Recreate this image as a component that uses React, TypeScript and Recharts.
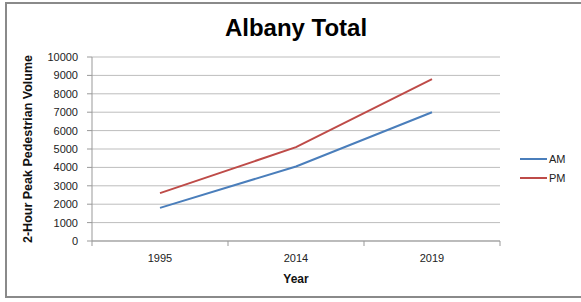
import React from "react";
import { LineChart, Line, XAxis, YAxis, CartesianGrid, Legend } from "recharts";

const years = ["1995", "2014", "2019"];
const amVolume = [1800, 4050, 7000];
const pmVolume = [2600, 5100, 8800];
const yTicks = [0, 1000, 2000, 3000, 4000, 5000, 6000, 7000, 8000, 9000, 10000];

// categories sit in the middle of each band, tick marks on the band edges
const data = years.map((year, i) => ({ pos: i + 0.5, year, AM: amVolume[i], PM: pmVolume[i] }));
const xTicks = [0, 0.5, 1, 1.5, 2, 2.5, 3];

const FONT = "'Liberation Sans', Arial, Helvetica, sans-serif";
const AM_COLOR = "#4A7EBB";
const PM_COLOR = "#BE4B48";

function XTick(props: any) {
  const { x, y, payload } = props;
  const v = payload.value;
  if (Number.isInteger(v)) {
    return <line x1={x} x2={x} y1={y} y2={y + 5} stroke="#999" strokeWidth={1} />;
  }
  const label = years[Math.floor(v)];
  return (
    <text x={x} y={y + 21} textAnchor="middle" fontSize={11} fill="#222" fontFamily={FONT}>
      {label}
    </text>
  );
}

function LegendBox(props: any) {
  const items = props.payload || [];
  return (
    <div style={{ fontFamily: FONT, fontSize: 11, color: "#222" }}>
      {items.map((it: any) => (
        <div key={it.value} style={{ display: "flex", alignItems: "center", height: 19 }}>
          <span style={{ width: 27, height: 2, background: it.color, marginRight: 2 }} />
          <span>{it.value}</span>
        </div>
      ))}
    </div>
  );
}

export default function App() {
  return (
    <div style={{ position: "absolute", left: 0, top: 0, width: 581, height: 302, background: "#fff", overflow: "hidden" }}>
      <div
        style={{
          position: "absolute",
          left: 5,
          top: 2,
          width: 600,
          height: 296,
          border: "2px solid #8a8a8a",
          boxSizing: "border-box",
        }}
      />
      <div
        style={{
          position: "absolute",
          left: 92,
          width: 408,
          top: 14,
          textAlign: "center",
          fontFamily: FONT,
          fontWeight: "bold",
          fontSize: 24,
          color: "#000",
        }}
      >
        Albany Total
      </div>
      <div style={{ position: "absolute", left: 0, top: 0 }}>
        <LineChart width={581} height={302} data={data} margin={{ top: 57, right: 81, bottom: 0, left: 0 }}>
          <CartesianGrid vertical={false} stroke="#bdbdbd" strokeWidth={1} />
          <XAxis
            dataKey="pos"
            type="number"
            domain={[0, 3]}
            ticks={xTicks}
            tick={<XTick />}
            tickLine={false}
            tickSize={0}
            tickMargin={0}
            axisLine={{ stroke: "#999" }}
            height={61}
            interval={0}
            label={{
              value: "Year",
              position: "insideBottom",
              offset: 19,
              style: { fontFamily: FONT, fontSize: 12, fontWeight: "bold", fill: "#111" },
            }}
          />
          <YAxis
            domain={[0, 10000]}
            ticks={yTicks}
            interval={0}
            width={92}
            tickSize={5}
            tickMargin={9}
            axisLine={{ stroke: "#999" }}
            tickLine={{ stroke: "#999" }}
            tick={{ fontSize: 11, fill: "#222", fontFamily: FONT }}
            label={{
              value: "2-Hour Peak Pedestrian Volume",
              angle: -90,
              position: "insideLeft",
              offset: 0,
              dx: 28,
              style: { textAnchor: "middle", fontFamily: FONT, fontSize: 12.5, fontWeight: "bold", fill: "#111" },
            }}
          />
          <Legend
            layout="horizontal"
            verticalAlign="middle"
            align="center"
            content={<LegendBox />}
            wrapperStyle={{ left: 520, top: 149, width: 60 }}
          />
          <Line dataKey="AM" name="AM" stroke={AM_COLOR} strokeWidth={2} dot={false} isAnimationActive={false} />
          <Line dataKey="PM" name="PM" stroke={PM_COLOR} strokeWidth={2} dot={false} isAnimationActive={false} />
        </LineChart>
      </div>
    </div>
  );
}
